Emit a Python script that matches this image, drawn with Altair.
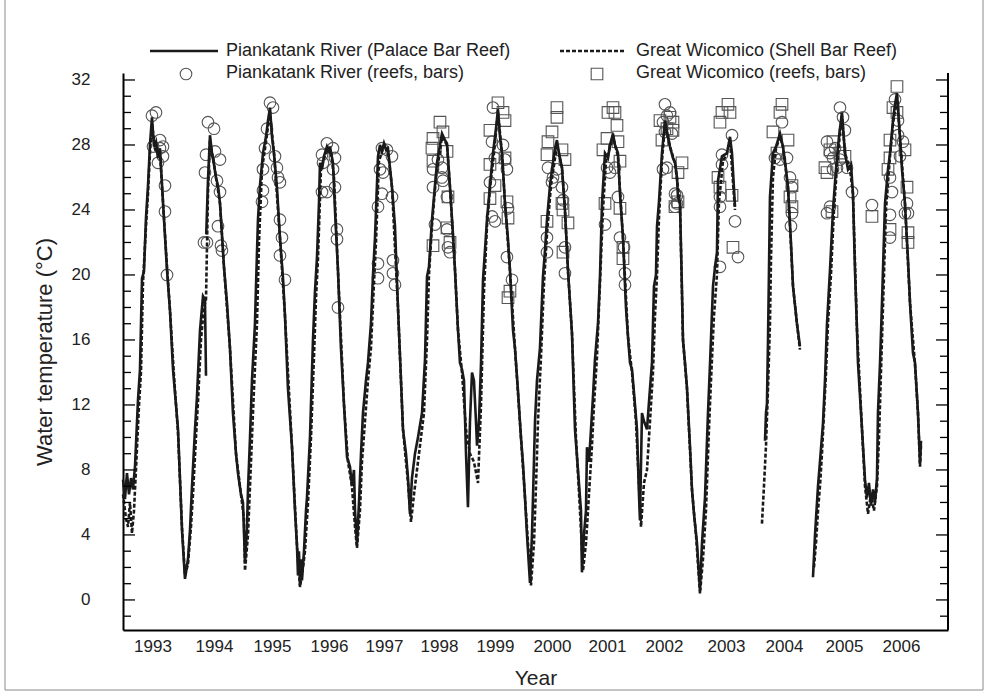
import altair as alt
import pandas as pd

# ---------------- data ----------------
# Piankatank River (Palace Bar Reef) logger record: (decimal year, water temp °C), one list per unbroken stretch
piank_segments = [
    [(1993.035, 7.4), (1993.069, 6.2), (1993.104, 7.8), (1993.139, 6.5), (1993.174, 7.5), (1993.208, 6.8),
     (1993.243, 8.2), (1993.295, 12.3), (1993.330, 14.2), (1993.365, 19.8), (1993.399, 20.2), (1993.434, 23.5),
     (1993.469, 25.5), (1993.503, 28.0), (1993.538, 29.7), (1993.573, 27.9), (1993.608, 28.2), (1993.642, 27.2),
     (1993.677, 27.8), (1993.729, 24.5), (1993.799, 20.3), (1993.851, 17.8), (1993.903, 14.2), (1993.955, 12.0),
     (1993.990, 10.5), (1994.059, 4.3), (1994.111, 1.3), (1994.163, 2.5), (1994.198, 4.3), (1994.233, 7.0),
     (1994.285, 10.5), (1994.319, 12.5), (1994.372, 16.6), (1994.424, 18.7), (1994.458, 18.5), (1994.476, 13.8)],
    [(1994.480, 22.5), (1994.510, 25.8), (1994.545, 28.6), (1994.580, 27.5), (1994.615, 26.8), (1994.649, 26.0),
     (1994.684, 25.5), (1994.719, 24.4), (1994.788, 20.5), (1994.840, 18.3), (1994.892, 15.5), (1994.944, 11.5),
     (1994.997, 9.0), (1995.031, 7.8), (1995.083, 6.5), (1995.118, 6.0), (1995.153, 2.3), (1995.188, 4.5),
     (1995.205, 6.8), (1995.240, 10.0), (1995.274, 13.5), (1995.326, 17.0), (1995.344, 19.3), (1995.378, 23.4),
     (1995.413, 25.5), (1995.465, 27.5), (1995.517, 28.5), (1995.552, 29.5), (1995.587, 30.3), (1995.622, 28.5),
     (1995.656, 27.5), (1995.708, 25.4), (1995.760, 22.3), (1995.813, 19.8), (1995.847, 17.5), (1995.899, 13.0),
     (1995.969, 9.4), (1996.021, 5.5), (1996.056, 3.3), (1996.073, 1.5), (1996.090, 3.0), (1996.108, 0.9),
     (1996.125, 2.5), (1996.142, 1.2), (1996.177, 3.0), (1996.212, 5.5), (1996.229, 6.3), (1996.281, 10.0),
     (1996.333, 16.0), (1996.368, 19.0), (1996.403, 21.1), (1996.438, 24.5), (1996.455, 26.9), (1996.490, 26.5),
     (1996.524, 27.3), (1996.576, 27.9), (1996.611, 27.6), (1996.628, 27.9), (1996.681, 26.9), (1996.715, 24.0),
     (1996.767, 20.3), (1996.819, 15.5), (1996.872, 12.0), (1996.924, 8.8), (1996.976, 8.2), (1997.010, 7.0),
     (1997.045, 8.0), (1997.063, 5.5), (1997.097, 3.4), (1997.132, 6.0), (1997.167, 9.0), (1997.201, 11.5),
     (1997.253, 13.5), (1997.288, 14.6), (1997.340, 17.0), (1997.375, 20.0), (1997.410, 22.3), (1997.462, 27.3),
     (1997.497, 28.0), (1997.531, 27.6), (1997.566, 28.1), (1997.601, 27.7), (1997.635, 27.8), (1997.705, 25.4),
     (1997.757, 23.0), (1997.809, 18.0), (1997.844, 15.0), (1997.896, 10.5), (1997.948, 9.0), (1997.983, 7.5),
     (1998.017, 5.3), (1998.052, 7.5), (1998.104, 9.0), (1998.156, 10.0), (1998.226, 11.5), (1998.278, 14.8),
     (1998.313, 19.9), (1998.347, 20.5), (1998.399, 23.4), (1998.451, 25.5), (1998.486, 26.9), (1998.538, 28.0),
     (1998.573, 28.7), (1998.625, 28.3), (1998.660, 28.1), (1998.712, 25.4), (1998.764, 22.5), (1998.799, 20.3),
     (1998.851, 16.6), (1998.885, 14.6), (1998.920, 14.2), (1998.955, 13.5), (1998.990, 9.0), (1999.024, 5.7),
     (1999.059, 11.0), (1999.094, 14.0), (1999.128, 13.5), (1999.163, 11.0), (1999.181, 9.5), (1999.215, 11.0),
     (1999.250, 14.5), (1999.285, 19.7), (1999.319, 21.5), (1999.354, 23.4), (1999.406, 25.5), (1999.458, 27.5),
     (1999.510, 29.0), (1999.545, 30.2), (1999.580, 28.5), (1999.615, 27.5), (1999.667, 24.4), (1999.719, 22.2),
     (1999.753, 20.3), (1999.806, 16.6), (1999.840, 15.5), (1999.892, 12.9), (1999.944, 10.0), (1999.979, 8.4),
     (2000.014, 6.3), (2000.049, 4.0), (2000.101, 1.05), (2000.135, 4.0), (2000.153, 6.3), (2000.188, 11.0),
     (2000.222, 13.5), (2000.274, 15.5), (2000.326, 19.9), (2000.361, 21.5), (2000.396, 23.4), (2000.448, 25.5),
     (2000.483, 26.5), (2000.535, 27.8), (2000.569, 28.3), (2000.604, 27.5), (2000.656, 26.6), (2000.708, 24.0),
     (2000.760, 20.3), (2000.830, 16.4), (2000.882, 10.5), (2000.934, 8.0), (2000.969, 6.3), (2000.986, 5.5),
     (2001.003, 1.7), (2001.038, 4.0), (2001.073, 5.5), (2001.090, 9.4), (2001.125, 8.5), (2001.160, 10.5),
     (2001.194, 12.5), (2001.229, 14.8), (2001.281, 17.0), (2001.316, 19.9), (2001.351, 24.4), (2001.403, 27.5),
     (2001.455, 27.2), (2001.490, 28.0), (2001.542, 28.7), (2001.576, 28.0), (2001.628, 27.5), (2001.663, 25.0),
     (2001.715, 22.3), (2001.767, 18.0), (2001.802, 16.2), (2001.837, 14.6), (2001.872, 14.2), (2001.924, 12.0),
     (2001.958, 10.5), (2001.993, 6.5), (2002.010, 4.9), (2002.045, 11.5), (2002.080, 11.0), (2002.132, 10.5),
     (2002.184, 13.0), (2002.219, 14.6), (2002.253, 19.3), (2002.288, 20.0), (2002.306, 23.0), (2002.340, 24.5),
     (2002.392, 27.5), (2002.444, 29.5), (2002.497, 28.5), (2002.531, 27.9), (2002.583, 27.2), (2002.618, 26.9),
     (2002.653, 26.0), (2002.670, 24.8), (2002.705, 24.4), (2002.740, 19.0), (2002.757, 16.0), (2002.792, 14.6),
     (2002.826, 13.1), (2002.878, 9.5), (2002.913, 6.8), (2002.948, 5.3), (2003.000, 3.5), (2003.052, 0.6),
     (2003.087, 3.5), (2003.139, 6.3), (2003.191, 11.5), (2003.226, 14.5), (2003.278, 19.3), (2003.313, 20.5),
     (2003.347, 21.4), (2003.365, 25.8), (2003.434, 27.3), (2003.521, 27.5), (2003.573, 28.5), (2003.608, 27.5),
     (2003.660, 24.2)],
    [(2004.181, 9.8), (2004.198, 11.5), (2004.215, 12.1), (2004.233, 16.0), (2004.250, 20.3), (2004.267, 24.8),
     (2004.319, 27.5), (2004.372, 27.9), (2004.441, 28.7), (2004.493, 27.9), (2004.545, 26.5), (2004.580, 25.4),
     (2004.632, 22.0), (2004.667, 19.3), (2004.736, 17.0), (2004.788, 15.6)],
    [(2005.014, 1.4), (2005.049, 4.0), (2005.101, 7.0), (2005.135, 8.5), (2005.188, 10.9), (2005.222, 13.5),
     (2005.257, 17.0), (2005.309, 20.3), (2005.361, 24.0), (2005.413, 26.5), (2005.465, 28.5), (2005.517, 30.0),
     (2005.569, 27.5), (2005.622, 26.5), (2005.674, 26.8), (2005.708, 25.0), (2005.743, 20.3), (2005.778, 16.6),
     (2005.795, 14.6), (2005.865, 10.5), (2005.917, 7.4), (2005.951, 6.3), (2005.986, 7.2), (2006.021, 5.8),
     (2006.056, 6.8), (2006.090, 6.0), (2006.125, 7.5), (2006.142, 11.5), (2006.177, 14.5), (2006.212, 18.3),
     (2006.264, 24.4), (2006.316, 26.5), (2006.351, 27.5), (2006.403, 29.5), (2006.438, 30.5), (2006.472, 31.2),
     (2006.524, 28.5), (2006.559, 26.5), (2006.611, 24.4), (2006.663, 21.0), (2006.698, 18.3), (2006.750, 15.2),
     (2006.785, 14.6), (2006.837, 11.5), (2006.872, 8.4), (2006.889, 9.8)],
]

# Great Wicomico (Shell Bar Reef) logger record
wico_segments = [
    [(1993.035, 6.5), (1993.087, 5.0), (1993.122, 4.5), (1993.156, 6.0), (1993.191, 4.1), (1993.226, 5.5),
     (1993.260, 8.0), (1993.313, 12.0), (1993.347, 14.0), (1993.382, 19.5), (1993.434, 23.0), (1993.469, 25.0),
     (1993.503, 27.5), (1993.538, 29.3), (1993.590, 27.8), (1993.642, 27.5), (1993.677, 27.5), (1993.729, 24.5),
     (1993.799, 20.5), (1993.851, 17.8), (1993.920, 13.8), (1993.990, 10.3), (1994.059, 4.5), (1994.111, 1.5),
     (1994.163, 2.2), (1994.215, 4.5), (1994.250, 6.5), (1994.302, 10.0), (1994.337, 12.2), (1994.389, 16.0),
     (1994.441, 18.0), (1994.476, 18.5), (1994.510, 25.0), (1994.545, 28.3), (1994.615, 26.8), (1994.719, 24.4),
     (1994.788, 20.5), (1994.892, 15.5), (1994.997, 9.0), (1995.083, 6.5), (1995.135, 5.0), (1995.153, 1.8),
     (1995.205, 4.0), (1995.240, 7.0), (1995.274, 10.0), (1995.309, 13.0), (1995.361, 17.0), (1995.396, 22.0),
     (1995.448, 26.5), (1995.517, 28.2), (1995.587, 30.0), (1995.656, 27.5), (1995.760, 22.3), (1995.847, 17.5),
     (1995.969, 9.4), (1996.056, 3.3), (1996.108, 0.8), (1996.160, 2.0), (1996.194, 3.0), (1996.247, 6.0),
     (1996.299, 10.0), (1996.351, 15.0), (1996.385, 18.5), (1996.420, 21.0), (1996.472, 26.5), (1996.524, 27.2),
     (1996.594, 27.8), (1996.646, 27.6), (1996.698, 26.0), (1996.767, 20.3), (1996.872, 12.0), (1996.941, 8.5),
     (1997.010, 7.0), (1997.063, 4.5), (1997.097, 3.2), (1997.149, 5.5), (1997.184, 8.5), (1997.236, 11.0),
     (1997.288, 13.5), (1997.340, 15.5), (1997.392, 19.5), (1997.427, 22.0), (1997.479, 27.0), (1997.566, 28.0),
     (1997.635, 27.6), (1997.705, 25.4), (1997.809, 18.0), (1997.896, 10.5), (1997.983, 7.2), (1998.035, 4.8),
     (1998.087, 6.5), (1998.139, 8.0), (1998.191, 9.5), (1998.260, 11.5), (1998.313, 16.0), (1998.347, 20.0),
     (1998.399, 23.0), (1998.469, 26.0), (1998.573, 28.5), (1998.660, 28.0), (1998.712, 25.4), (1998.799, 20.3),
     (1998.851, 16.6), (1998.920, 14.0), (1998.990, 10.5), (1999.059, 9.0), (1999.128, 8.5), (1999.198, 7.2),
     (1999.250, 12.0), (1999.302, 19.0), (1999.354, 23.0), (1999.406, 25.3), (1999.476, 27.5), (1999.545, 30.0),
     (1999.615, 27.5), (1999.667, 24.4), (1999.753, 20.3), (1999.840, 15.5), (1999.944, 10.0), (2000.014, 6.3),
     (2000.066, 3.5), (2000.118, 0.9), (2000.170, 3.5), (2000.205, 7.0), (2000.240, 11.0), (2000.292, 15.0),
     (2000.344, 19.5), (2000.396, 22.5), (2000.465, 25.5), (2000.569, 28.0), (2000.656, 26.6), (2000.708, 24.0),
     (2000.760, 20.3), (2000.830, 16.4), (2000.899, 10.0), (2000.969, 5.5), (2001.021, 1.8), (2001.073, 3.5),
     (2001.108, 5.5), (2001.142, 7.5), (2001.177, 9.5), (2001.212, 12.0), (2001.264, 15.0), (2001.316, 19.5),
     (2001.368, 24.0), (2001.420, 27.0), (2001.542, 28.5), (2001.628, 27.3), (2001.715, 22.3), (2001.802, 16.2),
     (2001.872, 14.0), (2001.941, 11.0), (2001.993, 7.0), (2002.028, 4.5), (2002.080, 7.2), (2002.132, 8.0),
     (2002.184, 11.0), (2002.236, 14.0), (2002.271, 17.5), (2002.306, 20.0), (2002.340, 23.5), (2002.392, 27.0),
     (2002.444, 29.3), (2002.531, 27.9), (2002.618, 26.9), (2002.705, 24.4), (2002.757, 16.0), (2002.826, 13.0),
     (2002.913, 6.8), (2002.983, 4.0), (2003.052, 0.4), (2003.104, 2.5), (2003.156, 5.5), (2003.208, 10.5),
     (2003.243, 13.5), (2003.295, 17.5), (2003.347, 20.0), (2003.382, 24.5), (2003.451, 27.0), (2003.521, 27.5),
     (2003.573, 28.3), (2003.660, 24.0)],
    [(2004.128, 4.7), (2004.163, 7.0), (2004.198, 9.5), (2004.233, 13.0), (2004.267, 17.0), (2004.285, 21.0),
     (2004.319, 26.0), (2004.372, 27.8), (2004.441, 28.5), (2004.493, 27.9), (2004.580, 25.4), (2004.667, 19.3),
     (2004.736, 17.0), (2004.788, 15.4)],
    [(2005.031, 2.0), (2005.066, 3.5), (2005.101, 5.5), (2005.135, 7.0), (2005.170, 9.0), (2005.205, 11.5),
     (2005.240, 14.0), (2005.274, 17.0), (2005.326, 20.0), (2005.378, 24.0), (2005.448, 27.5), (2005.517, 29.8),
     (2005.569, 27.5), (2005.656, 26.5), (2005.708, 25.0), (2005.778, 16.6), (2005.865, 10.5), (2005.917, 7.0),
     (2005.969, 5.3), (2006.021, 6.5), (2006.073, 5.5), (2006.125, 7.0), (2006.160, 10.0), (2006.194, 14.0),
     (2006.229, 18.0), (2006.281, 24.0), (2006.351, 27.3), (2006.403, 29.3), (2006.472, 31.0), (2006.524, 28.5),
     (2006.611, 24.4), (2006.698, 18.3), (2006.785, 14.5), (2006.837, 11.5), (2006.872, 8.2), (2006.889, 9.5)],
]

# Piankatank River (reefs, bars): spot observations (circles)
piank_reef_obs = [
    (1993.538, 29.8), (1993.608, 30.0), (1993.556, 27.9), (1993.677, 28.3), (1993.677, 27.8), (1993.729, 27.9),
    (1993.642, 26.9), (1993.729, 27.3), (1993.764, 25.5), (1993.764, 23.9), (1993.799, 20.0),
    (1994.510, 29.4), (1994.615, 29.0), (1994.476, 27.4), (1994.458, 26.3), (1994.632, 27.6), (1994.719, 27.1),
    (1994.667, 25.8), (1994.719, 25.1), (1994.441, 22.0), (1994.493, 22.0), (1994.684, 23.0), (1994.753, 21.5),
    (1994.736, 21.8),
    (1995.587, 30.6), (1995.639, 30.3), (1995.535, 29.0), (1995.500, 27.8), (1995.465, 26.5), (1995.465, 25.2),
    (1995.448, 24.5), (1995.674, 27.3), (1995.708, 26.6), (1995.726, 26.0), (1995.760, 25.7), (1995.760, 23.4),
    (1995.795, 22.3), (1995.760, 21.2), (1995.847, 19.7),
    (1996.576, 28.1), (1996.490, 27.4), (1996.681, 27.8), (1996.715, 27.2), (1996.507, 26.9), (1996.681, 26.5),
    (1996.490, 25.1), (1996.576, 25.1), (1996.715, 25.4), (1996.750, 22.8), (1996.750, 22.2), (1996.767, 18.0),
    (1997.531, 27.8), (1997.497, 26.5), (1997.549, 26.3), (1997.462, 24.2), (1997.531, 25.0), (1997.705, 24.8),
    (1997.462, 20.7), (1997.462, 19.8), (1997.722, 20.9), (1997.722, 20.1), (1997.757, 19.4), (1997.618, 27.7),
    (1997.705, 27.3),
    (1998.417, 26.5), (1998.503, 27.1), (1998.417, 25.4), (1998.451, 23.1), (1998.573, 26.6), (1998.573, 26.0),
    (1998.590, 25.8), (1998.660, 24.8), (1998.677, 21.7), (1998.712, 21.4), (1998.660, 22.8),
    (1999.458, 30.3), (1999.441, 28.2), (1999.493, 27.2), (1999.406, 25.7), (1999.441, 23.6), (1999.493, 23.3),
    (1999.632, 28.0), (1999.667, 27.1), (1999.701, 26.5), (1999.719, 24.1), (1999.701, 21.1), (1999.788, 19.7),
    (2000.413, 26.6), (2000.500, 26.0), (2000.483, 25.7), (2000.569, 26.5), (2000.656, 25.4), (2000.674, 24.6),
    (2000.396, 22.3), (2000.396, 21.4), (2000.708, 21.7), (2000.708, 20.1),
    (2001.438, 26.6), (2001.490, 26.3), (2001.576, 26.6), (2001.403, 23.1), (2001.628, 24.8), (2001.663, 22.3),
    (2001.733, 21.7), (2001.750, 20.1), (2001.750, 19.4),
    (2002.444, 30.5), (2002.531, 30.0), (2002.410, 29.4), (2002.566, 28.7), (2002.479, 26.6), (2002.618, 25.0),
    (2002.653, 24.4), (2002.479, 29.8), (2002.444, 28.8), (2002.410, 26.5), (2002.653, 24.9), (2002.618, 24.2),
    (2003.608, 28.6), (2003.434, 27.4), (2003.434, 26.8), (2003.399, 24.8), (2003.399, 24.2), (2003.660, 23.3),
    (2003.712, 21.1), (2003.399, 20.5),
    (2004.476, 29.4), (2004.354, 27.2), (2004.441, 27.1), (2004.563, 27.2), (2004.615, 26.0), (2004.649, 25.4),
    (2004.649, 23.8), (2004.632, 23.0),
    (2005.483, 30.3), (2005.535, 29.7), (2005.569, 28.9), (2005.257, 28.2), (2005.309, 27.5), (2005.396, 27.8),
    (2005.361, 27.2), (2005.361, 26.5), (2005.483, 27.1), (2005.431, 26.6), (2005.604, 26.6), (2005.691, 25.1),
    (2005.309, 24.2), (2005.257, 23.8),
    (2006.438, 30.8), (2006.490, 29.5), (2006.576, 28.2), (2006.490, 28.6), (2006.524, 27.3), (2006.351, 26.0),
    (2006.385, 25.1), (2006.038, 24.3), (2006.351, 23.7), (2006.351, 22.3), (2006.646, 24.4), (2006.663, 23.8),
    (2006.611, 23.8),
]

# Great Wicomico (reefs, bars): spot observations (squares)
wico_reef_obs = [
    (1998.538, 29.4), (1998.417, 28.4), (1998.417, 27.0), (1998.590, 28.8), (1998.660, 27.6), (1998.677, 24.8),
    (1998.660, 22.9), (1998.417, 21.8), (1998.712, 22.0), (1998.399, 27.8),
    (1999.545, 30.6), (1999.406, 28.9), (1999.632, 30.0), (1999.667, 29.5), (1999.406, 26.8), (1999.667, 27.2),
    (1999.406, 24.7), (1999.701, 24.5), (1999.719, 23.5), (1999.753, 19.0), (1999.719, 18.6), (1999.493, 25.5),
    (2000.569, 30.3), (2000.569, 29.7), (2000.483, 28.8), (2000.413, 28.2), (2000.396, 27.4), (2000.656, 27.7),
    (2000.708, 27.1), (2000.674, 24.0), (2000.656, 24.4), (2000.396, 23.3), (2000.760, 23.2), (2000.674, 21.4),
    (2001.542, 30.3), (2001.455, 30.0), (2001.576, 30.0), (2001.611, 29.2), (2001.438, 28.4), (2001.368, 27.7),
    (2001.628, 28.2), (2001.663, 27.0), (2001.403, 24.4), (2001.663, 24.1), (2001.715, 21.7), (2001.715, 21.0),
    (2002.531, 29.7), (2002.479, 29.0), (2002.740, 26.9), (2002.670, 26.3), (2002.670, 24.5), (2002.618, 24.2),
    (2002.358, 29.5), (2002.583, 29.4), (2002.583, 28.9), (2002.392, 28.3),
    (2003.538, 30.5), (2003.434, 30.0), (2003.573, 30.0), (2003.399, 29.4), (2003.365, 26.0), (2003.399, 25.4),
    (2003.608, 24.9), (2003.625, 21.7),
    (2004.476, 30.5), (2004.441, 30.0), (2004.319, 28.8), (2004.580, 28.3), (2004.649, 25.5), (2004.615, 24.8),
    (2004.649, 24.2), (2004.389, 27.5),
    (2005.361, 28.2), (2005.309, 27.7), (2005.222, 26.6), (2005.257, 26.3), (2005.483, 27.5), (2005.569, 27.3),
    (2005.344, 23.9),
    (2006.472, 31.6), (2006.403, 30.3), (2006.472, 30.0), (2006.351, 28.3), (2006.611, 27.7), (2006.351, 27.2),
    (2006.316, 26.5), (2006.646, 25.4), (2006.038, 23.6), (2006.351, 22.8), (2006.663, 22.6), (2006.663, 22.0),
]

# x-axis year labels, centred on each summer
year_label_pos = [1993.547, 1994.615, 1995.622, 1996.611, 1997.566, 1998.521, 1999.493,
                  2000.483, 2001.438, 2002.427, 2003.503, 2004.510, 2005.552, 2006.542]
y_label_values = [0, 4, 8, 12, 16, 20, 24, 28, 32]
y_tick_values = [-1, 0, 1, 2, 3, 4, 5, 6, 7, 8, 9, 10, 11, 12, 13, 14, 15, 16,
                 17, 18, 19, 20, 21, 22, 23, 24, 25, 26, 27, 28, 29, 30, 31, 32]

legend_labels = ["Piankatank River (Palace Bar Reef)", "Piankatank River (reefs, bars)",
                 "Great Wicomico (Shell Bar Reef)", "Great Wicomico (reefs, bars)"]

# ---------------- tables ----------------
def seg_table(segments, name):
    rows = []
    for i, seg in enumerate(segments):
        for yr, t in seg:
            rows.append({"year": yr, "temp": t, "seg": f"{name}{i}"})
    return pd.DataFrame(rows)

piank_df = seg_table(piank_segments, "P")
wico_df = seg_table(wico_segments, "W")
circ_df = pd.DataFrame(piank_reef_obs, columns=["year", "temp"])
sq_df = pd.DataFrame(wico_reef_obs, columns=["year", "temp"])
tick_df = pd.DataFrame({"temp": y_tick_values, "major": [v % 4 == 0 for v in y_tick_values]})
one = pd.DataFrame({"k": [0]})

W, H = 825, 557
FONT = "Liberation Sans"
INK = "#1a1a1a"
xs = alt.Scale(domain=[1993.035, 2007.358], nice=False, zero=False)
ys = alt.Scale(domain=[-1.85, 32.43], nice=False, zero=False)

x_axis = alt.Axis(values=year_label_pos, labelExpr="'' + floor(datum.value)", ticks=False, grid=False,
                  domainColor="black", domainWidth=2, labelFontSize=17, labelColor="#222",
                  labelPadding=8, labelOverlap=False, labelFlush=False, labelFont=FONT,
                  title="Year", titleFont=FONT, titleFontSize=21, titleFontWeight="normal",
                  titleColor="#222", titlePadding=13)
y_axis = alt.Axis(values=y_label_values, ticks=False, grid=False, domainColor="black", domainWidth=2,
                  labelFontSize=17, labelColor="#222", labelPadding=33, labelOverlap=False, labelFont=FONT,
                  title="Water temperature (°C)", titleFont=FONT, titleFontSize=22,
                  titleFontWeight="normal", titleColor="#222", titlePadding=15)

X = alt.X("year:Q", scale=xs, axis=x_axis)
Y = alt.Y("temp:Q", scale=ys, axis=y_axis)

circles = alt.Chart(circ_df).mark_point(shape="circle", size=135, filled=False, color="#555",
                                        strokeWidth=1.1, opacity=1).encode(x=X, y=Y)
squares = alt.Chart(sq_df).mark_point(shape="square", size=135, filled=False, color="#555",
                                      strokeWidth=1.1, opacity=1).encode(x=X, y=Y)
dashed = alt.Chart(wico_df).mark_line(color=INK, strokeWidth=2.6, strokeDash=[4, 2]).encode(
    x=X, y=Y, detail="seg:N")
solid = alt.Chart(piank_df).mark_line(color=INK, strokeWidth=2.6).encode(x=X, y=Y, detail="seg:N")

major = alt.datum.major
tick_layers = []
for flt, length in [(major, 12), (~major, 8)]:
    tick_layers.append(alt.Chart(tick_df).transform_filter(flt).mark_rule(color="black", strokeWidth=1.3).encode(
        y=Y, x=alt.value(0), x2=alt.value(length)))
    tick_layers.append(alt.Chart(tick_df).transform_filter(flt).mark_rule(color="black", strokeWidth=1.3).encode(
        y=Y, x=alt.value(W - length), x2=alt.value(W)))
right_axis = alt.Chart(one).mark_rule(color="black", strokeWidth=2).encode(
    x=alt.value(W), y=alt.value(0), y2=alt.value(H))

# frame around the whole figure
frame = [
    alt.Chart(one).mark_rule(color="#8a8a8a", strokeWidth=1).encode(x=alt.value(-118), y=alt.value(-73), y2=alt.value(617)),
    alt.Chart(one).mark_rule(color="#8a8a8a", strokeWidth=1).encode(x=alt.value(860), y=alt.value(-73), y2=alt.value(617)),
    alt.Chart(one).mark_rule(color="#8a8a8a", strokeWidth=1).encode(x=alt.value(-118), x2=alt.value(860), y=alt.value(617)),
]

# legend
leg = [
    alt.Chart(one).mark_rule(color=INK, strokeWidth=2.6).encode(x=alt.value(27), x2=alt.value(95), y=alt.value(-22)),
    alt.Chart(one).mark_rule(color=INK, strokeWidth=2.6, strokeDash=[4, 2]).encode(
        x=alt.value(437), x2=alt.value(502), y=alt.value(-22)),
    alt.Chart(one).mark_point(shape="circle", size=135, filled=False, color="#555", strokeWidth=1.1, opacity=1).encode(
        x=alt.value(63), y=alt.value(1)),
    alt.Chart(one).mark_point(shape="square", size=135, filled=False, color="#555", strokeWidth=1.1, opacity=1).encode(
        x=alt.value(474), y=alt.value(1)),
]
for lab, lx, ly in [(legend_labels[0], 103, -22), (legend_labels[1], 103, 0),
                    (legend_labels[2], 513, -22), (legend_labels[3], 513, 0)]:
    leg.append(alt.Chart(one).mark_text(align="left", baseline="middle", fontSize=18, font=FONT,
                                        color="#222").encode(x=alt.value(lx), y=alt.value(ly),
                                                             text=alt.value(lab)))

chart = alt.layer(
    circles, squares, dashed, solid, *tick_layers, right_axis, *frame, *leg,
).properties(
    width=W, height=H,
    padding={"left": 123, "top": 73, "right": 40, "bottom": 68},
    autosize=alt.AutoSizeParams(type="none"),
    background="white",
).configure(font=FONT).configure_view(stroke=None)

chart.save("out.html", embed_options={"renderer": "svg", "actions": False})
